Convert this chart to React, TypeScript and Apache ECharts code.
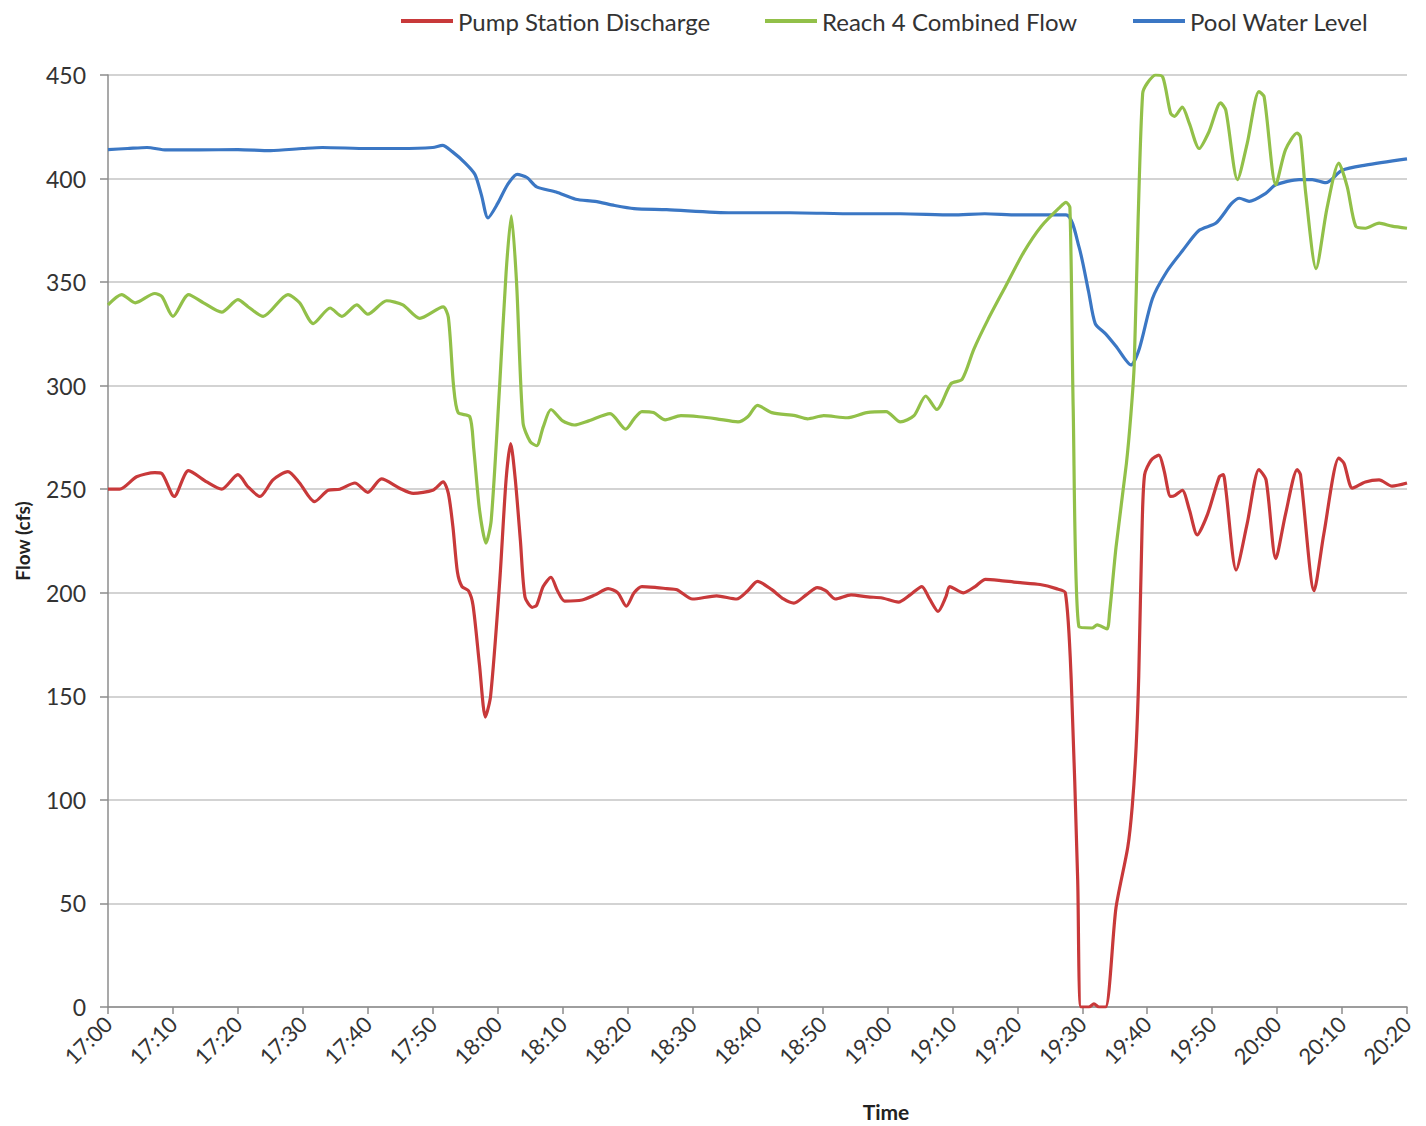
import React, { useEffect, useRef } from "react";
import * as echarts from "echarts";

// x values are minutes after 17:00
const timeLabels = [
  "17:00", "17:10", "17:20", "17:30", "17:40", "17:50", "18:00", "18:10", "18:20", "18:30", "18:40",
  "18:50", "19:00", "19:10", "19:20", "19:30", "19:40", "19:50", "20:00", "20:10", "20:20",
];
const seriesNames = ["Pump Station Discharge", "Reach 4 Combined Flow", "Pool Water Level"];
const seriesColors = ["#C8393A", "#92C049", "#3B77C4"];

const pumpT = [
  0, 1.8, 4.4, 7.2, 8.3, 10.2, 12.4, 15.2, 17.5, 20, 21.6, 23.4, 25.4, 27.7, 29.5, 31.8, 33.9, 35.7, 38, 40,
  42.1, 44.9, 47, 50, 51.6, 52.4, 53.1, 53.8, 54.5, 55.5, 56.2, 57.2, 58.1, 58.9, 60.3, 61.3, 62, 62.7, 63.5,
  64.2, 65.3, 66, 67, 68.2, 69.2, 70.3, 73, 75, 77, 78.5, 79.8, 81, 82.2, 84.5, 86, 87.6, 90, 93.7, 96.8, 98.5,
  100, 102.2, 104, 105.6, 107.5, 109.2, 110.5, 112, 114.4, 117, 119.2, 121.7, 123.5, 125.3, 126.5, 127.8, 129,
  129.6, 131.7, 133.5, 135.1, 137.2, 140, 143.5, 146, 147.4, 148.3, 149.3, 149.8, 151, 151.8, 152.6, 153.6,
  155.2, 157, 157.7, 158.3, 158.7, 159.2, 159.6, 160.6, 161.8, 162.6, 163.6, 164.3, 165.4, 166.5, 167.7, 169.3,
  171.1, 171.7, 172.1, 173.7, 175.4, 177.2, 178.3, 179.8, 181.3, 183.1, 183.6, 185.7, 187.2, 189.5, 190.3,
  191.6, 193.6, 195.7, 197.7, 200,
];
const pumpV = [
  250, 250, 256, 258, 257.5, 246.5, 259, 253.5, 250, 257, 251, 246.5, 254.5, 258.5, 253, 244, 249.5, 250, 253,
  248.5, 255, 250.5, 248, 249.5, 253.5, 248, 232, 210, 203, 201, 194, 165, 140, 150, 205, 255, 272, 255, 225,
  198, 193, 194, 203, 207.5, 201, 196, 196.5, 199, 202, 200, 193.5, 200, 203, 202.5, 202, 201.5, 197, 198.5,
  197, 201, 205.5, 201.5, 197, 195, 199, 202.5, 201, 197, 199, 198, 197.5, 195.5, 199, 203, 197, 191, 198,
  203, 200, 203, 206.5, 206, 205, 204, 202, 200, 158, 61, 0, 0, 1.5, 0, 0, 48, 77, 97, 126, 160, 230, 257,
  264, 266.5, 259, 246.5, 247, 249.5, 240, 228, 238, 256, 257, 250, 211, 233.5, 259.5, 254.5, 216.5, 238,
  259.5, 257, 201, 228.5, 265, 262.5, 250.5, 253.5, 254.5, 251.5, 253,
];

const reachT = [
  0, 2.1, 4.2, 7.2, 8.3, 10, 12.4, 14.7, 17.5, 20, 21.6, 23.9, 27.7, 29.5, 31.6, 34.2, 36, 38.3, 40, 42.9,
  45.4, 48, 51.6, 52.4, 53.2, 53.9, 55.7, 56.3, 57.2, 58.2, 59, 60.3, 61.3, 62.1, 62.9, 63.9, 65, 66, 67,
  68.2, 70, 71.8, 74, 77.3, 79.7, 81, 82.2, 84, 85.8, 88.2, 91, 93.7, 97, 98.5, 100, 102.2, 105.8, 107.7,
  110.2, 113.8, 116.8, 119.8, 122, 124.1, 125.9, 127.6, 129.8, 131.5, 133.3, 135.5, 138.2, 141, 143.7, 146.5,
  147.5, 148.1, 148.6, 149.5, 151.5, 152.3, 153.8, 154.2, 155.2, 156.8, 157.5, 158, 158.6, 159.3, 160, 161.3,
  162.4, 163.6, 164.2, 165.4, 166.5, 168, 169.5, 171.3, 172.1, 173.9, 175.4, 177.2, 178, 179.8, 181.3, 183.1,
  183.6, 184.4, 186, 187.7, 189.5, 190.8, 192.1, 193.6, 195.7, 197.7, 200,
];
const reachV = [
  339, 344, 340, 344.5, 343, 333.5, 344, 340, 335.5, 341.5, 338, 333.5, 344, 340, 330, 337.5, 333.5, 339,
  334.5, 341, 339, 332.5, 338, 333, 300, 287, 285, 270, 240, 224, 235, 300, 355, 382, 350, 282, 273, 271,
  280, 288.5, 283, 281, 283, 286.5, 279, 284, 287.5, 287, 283.5, 285.5, 285, 284, 282.5, 285, 290.5, 287,
  285.5, 284, 285.5, 284.5, 287, 287.5, 282.5, 285.5, 295, 288.5, 301, 303, 317.5, 332, 348, 364.5, 377,
  386, 388.5, 386, 290, 183.5, 183, 184.5, 182.5, 190, 222, 262.5, 286.5, 310, 380, 441, 446, 450, 449,
  431.5, 430, 434.5, 426.5, 414.5, 422.5, 436.5, 433, 399.5, 417, 442, 439.5, 397, 414, 422, 420, 393,
  356.5, 386, 407.5, 396, 377, 376, 378.5, 377, 376,
];

const poolT = [
  0, 3, 6, 9, 14, 20, 25, 30, 33, 40, 45, 50, 51.5, 53, 55, 56.5, 57.5, 58.5, 60, 61.5, 63, 64.5, 66, 69, 72,
  75, 78, 81, 86, 96, 105, 115, 122, 130, 135, 140, 147.5, 149.5, 151, 152, 153.6, 155.2, 157.5, 158.8, 160.8,
  163, 165.4, 168, 170.6, 173, 174.2, 175.7, 178.3, 179.8, 183.4, 185.4, 187.5, 190, 193.6, 200,
];
const poolV = [
  414, 414.5, 415, 413.8, 413.8, 414, 413.5, 414.5, 415, 414.5, 414.5, 415, 416, 413, 407.5, 402, 392, 381,
  388, 397, 402, 400.5, 396, 393.5, 390, 389, 387, 385.5, 385, 383.5, 383.5, 383, 383, 382.5, 383, 382.5,
  382.5, 367, 345, 330, 325, 319, 310, 318, 342, 355, 365, 375, 378.5, 388, 390.5, 389, 393, 397, 399.5,
  399.5, 398, 404, 406.5, 409.5,
];

const zip = (t: number[], v: number[]) => t.map((x, i) => [x, v[i]]);

const FONT = "Lato, 'Liberation Sans', sans-serif";
const TEXT = "#333333";
const AXIS = "#8c8c8c";

export default function App() {
  const ref = useRef<HTMLDivElement>(null);
  useEffect(() => {
    if (!ref.current) return;
    const chart = echarts.init(ref.current, null, { renderer: "svg" });
    const datasets = [zip(pumpT, pumpV), zip(reachT, reachV), zip(poolT, poolV)];
    const legendLefts = [396, 760, 1128];
    chart.setOption({
      animation: false,
      backgroundColor: "#ffffff",
      textStyle: { fontFamily: FONT },
      grid: { left: 108, right: 19, top: 75, bottom: 119, containLabel: false },
      legend: seriesNames.map((n, i) => ({
        data: [n],
        left: legendLefts[i],
        top: 4,
        icon: "rect",
        itemWidth: 52,
        itemHeight: 4,
        textStyle: { fontFamily: FONT, fontSize: 24, color: TEXT },
        selectedMode: false,
      })),
      xAxis: {
        type: "value",
        min: 0,
        max: 200,
        interval: 10,
        axisLine: { show: true, lineStyle: { color: AXIS, width: 1.5 } },
        axisTick: { show: true, length: 7, lineStyle: { color: AXIS, width: 1.5 } },
        splitLine: { show: false },
        axisLabel: {
          rotate: 45,
          margin: 13,
          fontFamily: FONT,
          fontSize: 22,
          color: TEXT,
          formatter: (v: number) => timeLabels[Math.round(v / 10)] ?? "",
        },
      },
      yAxis: {
        type: "value",
        min: 0,
        max: 450,
        interval: 50,
        axisLine: { show: true, lineStyle: { color: AXIS, width: 1.5 } },
        axisTick: { show: true, length: 8, lineStyle: { color: AXIS, width: 1.5 } },
        splitLine: { show: true, lineStyle: { color: "#c4c4c4", width: 1.5 } },
        axisLabel: { margin: 22, fontFamily: FONT, fontSize: 23, color: TEXT },
      },
      graphic: [
        {
          type: "text",
          x: 886,
          y: 1111,
          style: {
            text: "Time",
            font: `bold 21px ${FONT}`,
            fill: "#222",
            align: "center",
            verticalAlign: "middle",
          },
        },
        {
          type: "text",
          x: 22,
          y: 541,
          rotation: Math.PI / 2,
          style: {
            text: "Flow (cfs)",
            font: `bold 19px ${FONT}`,
            fill: "#222",
            align: "center",
            verticalAlign: "middle",
          },
        },
      ],
      series: seriesNames.map((n, i) => ({
        name: n,
        type: "line",
        data: datasets[i],
        showSymbol: false,
        symbol: "none",
        smooth: 0.25,
        color: seriesColors[i],
        lineStyle: { color: seriesColors[i], width: 3.2 },
        z: 3 - i,
      })),
    });
    return () => chart.dispose();
  }, []);
  return (
    <div
      ref={ref}
      style={{ position: "absolute", left: 0, top: 0, width: 1426, height: 1126 }}
    />
  );
}
